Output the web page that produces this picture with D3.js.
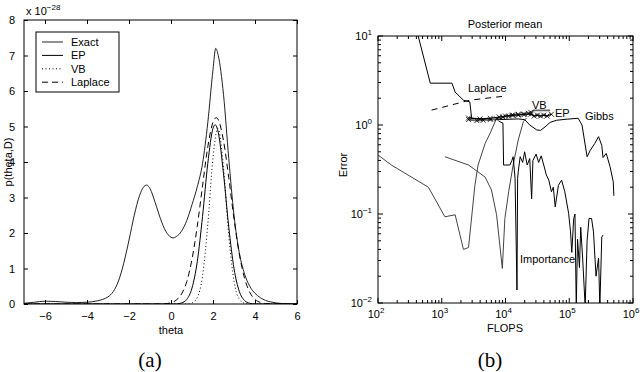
<!DOCTYPE html>
<html>
<head>
<meta charset="utf-8">
<script src="https://cdn.jsdelivr.net/npm/d3@7"></script>
<style>
  body { margin: 0; background: #fff; }
  text { font-family: "Liberation Sans", Arial, sans-serif; font-size: 11px; fill: #000; }
  .cap { font-family: "Liberation Serif", "DejaVu Serif", serif; font-size: 21px; }
</style>
</head>
<body>
<svg width="640" height="372"></svg>
<script>
// ---- panel (a): p(theta,D), values x 1e-28 ----
const thetaTicks = [-6, -4, -2, 0, 2, 4, 6];
const pTicks = [0, 1, 2, 3, 4, 5, 6, 7, 8];
const legendNames = ["Exact", "EP", "VB", "Laplace"];

const exactCurve = [[-7,0.02],[-6.5,0.05],[-6,0.08],[-5.5,0.07],[-5,0.05],[-4.5,0.04],[-4,0.05],
  [-3.5,0.09],[-3.25,0.13],[-3,0.2],[-2.75,0.35],[-2.5,0.65],[-2.25,1.15],[-2,1.8],[-1.75,2.5],
  [-1.5,3.05],[-1.25,3.33],[-1.15,3.35],[-1,3.25],[-0.75,2.85],[-0.5,2.4],[-0.25,2.05],[0,1.88],
  [0.1,1.86],[0.25,1.9],[0.5,2.05],[0.75,2.35],[1,2.8],[1.25,3.3],[1.5,3.95],[1.75,5.1],[2,6.6],
  [2.13,7.2],[2.25,7.0],[2.5,5.9],[2.75,4.1],[3,2.5],[3.25,1.45],[3.5,0.85],[3.75,0.5],[4,0.3],
  [4.25,0.18],[4.5,0.1],[4.75,0.06],[5,0.03],[5.25,0.015],[5.5,0.005],[6,0]];
const epCurve = [[-7,0],[0.25,0],[0.5,0.03],[0.75,0.13],[1,0.45],[1.25,1.19],[1.5,2.46],[1.75,3.95],
  [2,4.95],[2.1,5.05],[2.25,4.83],[2.5,3.67],[2.75,2.17],[3,1.0],[3.25,0.36],[3.5,0.1],[3.75,0.02],[4,0],[6,0]];
const vbCurve = [[-7,0],[0.75,0],[1,0.03],[1.25,0.18],[1.5,0.78],[1.75,2.23],[2,4.12],[2.23,4.95],
  [2.5,3.85],[2.75,1.94],[3,0.64],[3.25,0.14],[3.5,0.02],[3.75,0],[6,0]];
const laplaceCurve = [[-7,0],[-0.5,0],[-0.25,0.01],[0,0.035],[0.25,0.11],[0.5,0.28],[0.75,0.63],[1,1.26],
  [1.25,2.19],[1.5,3.32],[1.75,4.42],[2,5.12],[2.15,5.25],[2.25,5.19],[2.5,4.6],[2.75,3.56],[3,2.4],
  [3.25,1.42],[3.5,0.73],[3.75,0.33],[4,0.13],[4.25,0.045],[4.5,0.014],[4.75,0.003],[5,0],[6,0]];

// ---- panel (b): posterior mean error vs FLOPS ----
const flopsExp = [2, 3, 4, 5, 6];
const errorExp = [-2, -1, 0, 1];

const gibbsLine = [[427,10],[661,2.95],[1445,2.95],[1622,2.34],[2188,1.9],[2754,1.82],[2951,1.18],
  [5012,1.15],[7943,1.15],[15850,1.17],[19950,1.15],[23990,1.0],[30900,0.88],[35480,0.87],
  [41690,0.95],[50120,1.07],[63100,1.13],[89130,1.16],[138000,1.19],[158500,1.0],[190500,0.44],
  [213800,0.52],[251200,0.62],[288400,0.74],[323600,0.59],[338800,0.43],[380200,0.48],
  [436500,0.34],[489800,0.23],[501200,0.16]];
const lineA = [[100,0.46],[162,0.355],[617,0.2],[1122,0.093],[1622,0.098],[2188,0.04],[2630,0.042],
  [3311,0.21],[3715,0.355],[4786,0.62],[5754,0.81],[7244,1.19],[8913,1.2]];
const lineB = [[1122,0.44],[2630,0.355],[4786,0.26],[6026,0.186],[7244,0.098],[8913,0.0245],
  [9772,0.089],[11220,0.178],[13180,0.355],[15850,0.68],[19050,1.09],[21380,1.2]];
const laplaceLine = [[692,1.47],[2754,1.9],[9120,2.1]];
const vbLine = [[2630,1.15],[3548,1.12],[4467,1.13],[5754,1.15],[7244,1.17],[9120,1.23],[11220,1.26],
  [13180,1.29],[15850,1.32],[19050,1.32],[22910,1.35],[25120,1.38],[27540,1.46],[50120,1.46]];
const epLine = [[2630,1.2],[3981,1.17],[5754,1.19],[7943,1.23],[10000,1.26],[12590,1.29],[15850,1.29],
  [19950,1.32],[25120,1.32],[28180,1.26],[31620,1.29],[35480,1.26],[39810,1.29],[44670,1.26],[52480,1.32]];
const importanceLine = [[7943,1.1],[9120,1.05],[9333,0.355],[11750,0.355],[12590,0.4],[13180,0.44],
  [14130,0.25],[15140,0.014],[15490,0.25],[15850,0.3],[16980,0.44],[18620,0.38],[19950,0.5],
  [21880,0.355],[23990,0.42],[25700,0.148],[26920,0.4],[30200,0.47],[33110,0.38],[36310,0.45],
  [39810,0.355],[43650,0.275],[47860,0.24],[52480,0.178],[56230,0.2],[60260,0.12],[67610,0.21],
  [75860,0.24],[85110,0.178],[97720,0.102],[104700,0.063],[109600,0.037],[117500,0.089],[123000,0.1],
  [128800,0.009],[134900,0.052],[144500,0.025],[151400,0.071],[162200,0.032],[177800,0.009],
  [190500,0.05],[204200,0.089],[223900,0.089],[239900,0.063],[263000,0.02],[288400,0.032],
  [302000,0.009],[323600,0.055],[338800,0.058]];

const svg = d3.select("svg");

// ================= panel (a) =================
const xL = d3.scaleLinear().domain([-7, 6]).range([24, 297]);
const yL = d3.scaleLinear().domain([0, 8]).range([304, 20]);
const gA = svg.append("g");

gA.append("clipPath").attr("id", "clipA").append("rect")
  .attr("x", 24).attr("y", 20).attr("width", 273).attr("height", 284);

const lineL = d3.line().x(d => xL(d[0])).y(d => yL(d[1])).curve(d3.curveMonotoneX);
const curvesA = [
  { data: exactCurve, color: "#222", dash: null },
  { data: epCurve, color: "#000", dash: null },
  { data: vbCurve, color: "#000", dash: "1,2.5" },
  { data: laplaceCurve, color: "#000", dash: "6,4" }
];
gA.append("g").attr("clip-path", "url(#clipA)")
  .selectAll("path").data(curvesA).join("path")
  .attr("d", d => lineL(d.data))
  .attr("fill", "none")
  .attr("stroke", d => d.color)
  .attr("stroke-width", 1)
  .attr("stroke-dasharray", d => d.dash);

const fmtMinus = d => d < 0 ? "\u2212" + (-d) : String(d);
gA.append("g").attr("transform", "translate(0,304)")
  .call(d3.axisBottom(xL).tickValues(thetaTicks).tickSize(-4).tickSizeOuter(0).tickPadding(8).tickFormat(fmtMinus));
gA.append("g").attr("transform", "translate(0,20)")
  .call(d3.axisTop(xL).tickValues(thetaTicks).tickSize(-4).tickSizeOuter(0).tickFormat(""));
gA.append("g").attr("transform", "translate(24,0)")
  .call(d3.axisLeft(yL).tickValues(pTicks).tickSize(-4).tickSizeOuter(0).tickPadding(9));
gA.append("g").attr("transform", "translate(297,0)")
  .call(d3.axisRight(yL).tickValues(pTicks).tickSize(-4).tickSizeOuter(0).tickFormat(""));
gA.selectAll(".domain").remove();
gA.selectAll(".tick text").attr("font-family", "Liberation Sans, Arial, sans-serif").attr("font-size", 11);
gA.append("rect").attr("x", 24).attr("y", 20).attr("width", 273).attr("height", 284)
  .attr("fill", "none").attr("stroke", "#000");

// legend
const leg = gA.append("g");
leg.append("rect").attr("x", 36).attr("y", 32).attr("width", 83).attr("height", 60)
  .attr("fill", "#fff").attr("stroke", "#000");
leg.selectAll("line").data(curvesA).join("line")
  .attr("x1", 42).attr("x2", 63)
  .attr("y1", (d, i) => 42 + i * 13.4).attr("y2", (d, i) => 42 + i * 13.4)
  .attr("stroke", d => d.color).attr("stroke-dasharray", d => d.dash);
leg.selectAll("text").data(legendNames).join("text")
  .attr("x", 71).attr("y", (d, i) => 46 + i * 13.4).text(d => d);

const mult = gA.append("text").attr("x", 26).attr("y", 15);
mult.append("tspan").text("x 10");
mult.append("tspan").attr("dy", -5).attr("font-size", 8).text("\u221228");

gA.append("text").attr("x", 171).attr("y", 334).attr("text-anchor", "middle").text("theta");
gA.append("text").attr("transform", "translate(12,162) rotate(-90)")
  .attr("text-anchor", "middle").text("p(theta,D)");
gA.append("text").attr("class", "cap").attr("x", 150).attr("y", 367).attr("text-anchor", "middle").text("(a)");

// ================= panel (b) =================
const xR = d3.scaleLog().domain([1e2, 1e6]).range([378, 633]);
const yR = d3.scaleLog().domain([1e-2, 1e1]).range([303, 36]);
const gB = svg.append("g");

gB.append("clipPath").attr("id", "clipB").append("rect")
  .attr("x", 378).attr("y", 36).attr("width", 255).attr("height", 267);

const lineR = d3.line().x(d => xR(d[0])).y(d => yR(d[1]));
const curvesB = [
  { data: lineA, color: "#444", w: 1 },
  { data: lineB, color: "#444", w: 1 },
  { data: gibbsLine, color: "#000", w: 1 },
  { data: importanceLine, color: "#000", w: 1 },
  { data: laplaceLine, color: "#000", w: 1, dash: "6,5" },
  { data: vbLine, color: "#666", w: 1.6 },
  { data: epLine, color: "#000", w: 1.2 }
];
const plotB = gB.append("g").attr("clip-path", "url(#clipB)");
plotB.selectAll("path").data(curvesB).join("path")
  .attr("d", d => lineR(d.data))
  .attr("fill", "none")
  .attr("stroke", d => d.color)
  .attr("stroke-width", d => d.w)
  .attr("stroke-dasharray", d => d.dash || null);

// x markers on VB and EP
const marks = vbLine.slice(0, 12).concat(epLine);
plotB.selectAll(".xm").data(marks).join("path").attr("class", "xm")
  .attr("d", d => {
    const x = xR(d[0]), y = yR(d[1]), s = 2.5;
    return `M${x - s},${y - s}L${x + s},${y + s}M${x - s},${y + s}L${x + s},${y - s}`;
  })
  .attr("stroke", "#000").attr("stroke-width", 0.8);

// ticks (log, inward, all sides)
const xTicks = xR.ticks();
const yTicks = yR.ticks();
const isMajor = v => Math.abs(Math.log10(v) - Math.round(Math.log10(v))) < 1e-6;
const tk = gB.append("g").attr("stroke", "#000").attr("stroke-width", 1);
xTicks.forEach(v => {
  const x = xR(v), L = isMajor(v) ? 5 : 3;
  tk.append("line").attr("x1", x).attr("x2", x).attr("y1", 303).attr("y2", 303 - L);
  tk.append("line").attr("x1", x).attr("x2", x).attr("y1", 36).attr("y2", 36 + L);
});
yTicks.forEach(v => {
  const y = yR(v), L = isMajor(v) ? 5 : 3;
  tk.append("line").attr("x1", 378).attr("x2", 378 + L).attr("y1", y).attr("y2", y);
  tk.append("line").attr("x1", 633).attr("x2", 633 - L).attr("y1", y).attr("y2", y);
});
gB.append("rect").attr("x", 378).attr("y", 36).attr("width", 255).attr("height", 267)
  .attr("fill", "none").attr("stroke", "#000");

const supLabel = (x, y, e, anchor) => {
  const t = gB.append("text").attr("x", x).attr("y", y).attr("text-anchor", anchor);
  t.append("tspan").text("10");
  t.append("tspan").attr("dy", -5).attr("font-size", 8).text(e < 0 ? "\u2212" + (-e) : e);
};
flopsExp.forEach(e => supLabel(xR(Math.pow(10, e)) - 2, 318, e, "middle"));
errorExp.forEach(e => supLabel(372, yR(Math.pow(10, e)) + 4, e, "end"));

gB.append("text").attr("x", 505).attr("y", 28).attr("text-anchor", "middle").text("Posterior mean");
gB.append("text").attr("x", 505).attr("y", 332).attr("text-anchor", "middle").text("FLOPS");
gB.append("text").attr("transform", "translate(347,165) rotate(-90)")
  .attr("text-anchor", "middle").text("Error");
gB.append("text").attr("x", 468).attr("y", 92).text("Laplace");
gB.append("text").attr("x", 532).attr("y", 109).text("VB");
gB.append("text").attr("x", 555).attr("y", 117).text("EP");
gB.append("text").attr("x", 585).attr("y", 120).text("Gibbs");
gB.append("text").attr("x", 520).attr("y", 263).text("Importance");
gB.append("text").attr("class", "cap").attr("x", 490).attr("y", 367).attr("text-anchor", "middle").text("(b)");
</script>
</body>
</html>
